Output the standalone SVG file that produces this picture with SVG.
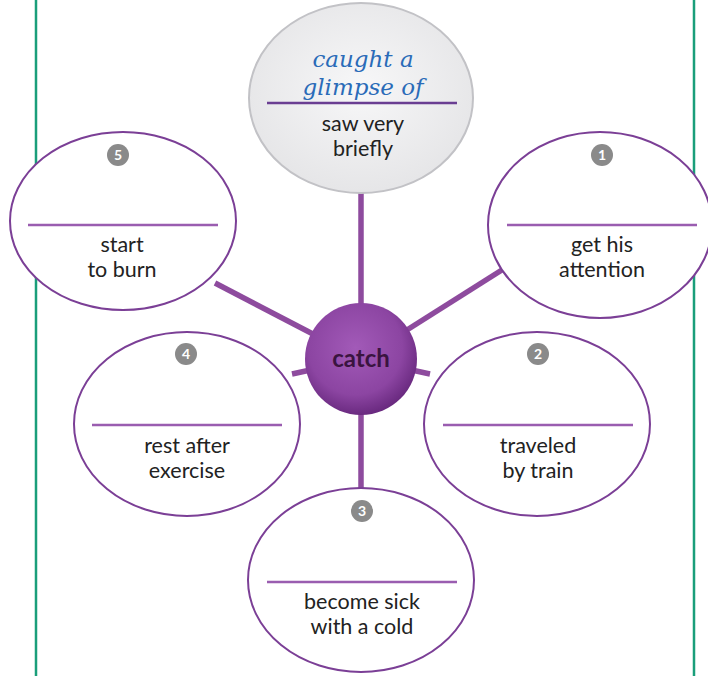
<svg xmlns="http://www.w3.org/2000/svg" width="708" height="676" viewBox="0 0 708 676">
<defs>
<radialGradient id="hub" cx="0.45" cy="0.4" r="0.6">
<stop offset="0" stop-color="#a25ab8"/>
<stop offset="0.7" stop-color="#8c45a2"/>
<stop offset="1" stop-color="#6a2a80"/>
</radialGradient>
<radialGradient id="topfill" cx="0.5" cy="0.45" r="0.6">
<stop offset="0" stop-color="#f7f7f8"/>
<stop offset="1" stop-color="#e4e4e6"/>
</radialGradient>
<style>
.frame{stroke:#1a9e7a;stroke-width:2.5;fill:none}
.conn line{stroke:#8e4b9e;stroke-width:5.5}
.oval{fill:#ffffff;stroke:#7b3f96;stroke-width:2}
.rule{stroke:#9a5db0;stroke-width:2.5}
.badge{fill:#8a8a8a}
.num{font-family:"Lato","Liberation Sans",sans-serif;font-size:14px;fill:#ffffff;text-anchor:middle;font-weight:bold}
.lbl{font-family:"Lato","Open Sans","Liberation Sans",sans-serif;font-size:21.5px;fill:#222;text-anchor:middle}
.hand{font-family:"DejaVu Serif","Liberation Serif",serif;font-style:italic;font-size:23px;fill:#2a6bb8;text-anchor:middle}
</style>
</defs>
<rect width="708" height="676" fill="#ffffff"/>
<line class="frame" x1="36" y1="0" x2="36" y2="676"/>
<line class="frame" x1="694" y1="0" x2="694" y2="676"/>
<g id="connectors" class="conn">
<line x1="361" y1="190" x2="361" y2="310"/>
<line x1="361" y1="410" x2="361" y2="492"/>
<line x1="215" y1="283" x2="361" y2="359"/>
<line x1="505" y1="268" x2="361" y2="359"/>
<line x1="292" y1="374" x2="361" y2="359"/>
<line x1="430" y1="374" x2="361" y2="359"/>
</g>
<g id="top">
<ellipse cx="361" cy="98" rx="112" ry="95" fill="url(#topfill)" stroke="#c2c2c6" stroke-width="2"/>
<text class="hand" x="363" y="67">caught a</text>
<text class="hand" x="363" y="95">glimpse of</text>
<line x1="267" y1="103" x2="457" y2="103" stroke="#6a3e92" stroke-width="2.5"/>
<text class="lbl" x="363" y="131">saw very</text>
<text class="lbl" x="363" y="156">briefly</text>
</g>
<g id="n5">
<ellipse class="oval" cx="123" cy="221" rx="113" ry="89"/>
<circle class="badge" cx="118" cy="155" r="11"/>
<text class="num" x="118" y="160">5</text>
<line class="rule" x1="28" y1="225" x2="218" y2="225"/>
<text class="lbl" x="122" y="252">start</text>
<text class="lbl" x="122" y="277">to burn</text>
</g>
<g id="n1">
<ellipse class="oval" cx="600" cy="225" rx="112" ry="93"/>
<circle class="badge" cx="602" cy="155" r="11"/>
<text class="num" x="602" y="160">1</text>
<line class="rule" x1="507" y1="225" x2="697" y2="225"/>
<text class="lbl" x="602" y="252">get his</text>
<text class="lbl" x="602" y="277">attention</text>
</g>
<g id="n4">
<ellipse class="oval" cx="187" cy="424" rx="113" ry="92"/>
<circle class="badge" cx="186" cy="354" r="11"/>
<text class="num" x="186" y="359">4</text>
<line class="rule" x1="92" y1="425" x2="282" y2="425"/>
<text class="lbl" x="187" y="453">rest after</text>
<text class="lbl" x="187" y="478">exercise</text>
</g>
<g id="n2">
<ellipse class="oval" cx="537" cy="424" rx="113" ry="92"/>
<circle class="badge" cx="538" cy="354" r="11"/>
<text class="num" x="538" y="359">2</text>
<line class="rule" x1="443" y1="425" x2="633" y2="425"/>
<text class="lbl" x="538" y="453">traveled</text>
<text class="lbl" x="538" y="478">by train</text>
</g>
<g id="n3">
<ellipse class="oval" cx="361" cy="580" rx="113" ry="92"/>
<circle class="badge" cx="362" cy="511" r="11"/>
<text class="num" x="362" y="516">3</text>
<line class="rule" x1="267" y1="582" x2="457" y2="582"/>
<text class="lbl" x="362" y="609">become sick</text>
<text class="lbl" x="362" y="634">with a cold</text>
</g>
<g id="hub-node">
<circle cx="361" cy="359" r="56" fill="url(#hub)"/>
<text x="361" y="367" font-family="Lato,'Open Sans','Liberation Sans',sans-serif" font-size="24" font-weight="bold" fill="#3a1440" text-anchor="middle">catch</text>
</g>
</svg>
